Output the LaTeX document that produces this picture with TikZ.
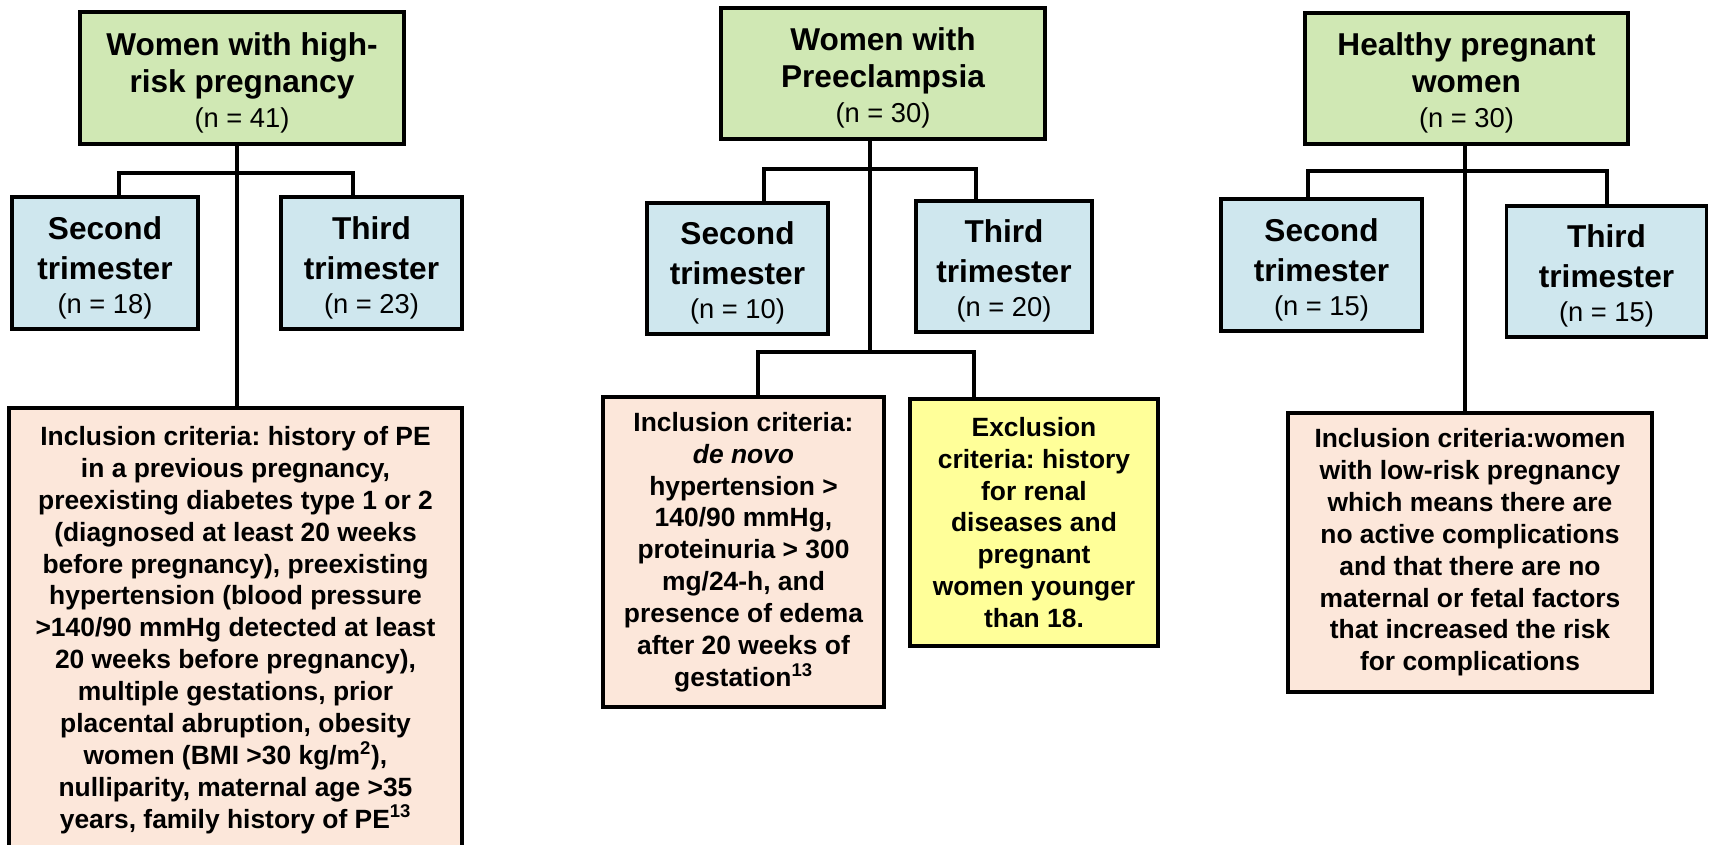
\documentclass[tikz,border=0pt]{standalone}
\usepackage{fontspec}
\setmainfont{Liberation Sans}
\frenchspacing
\definecolor{gfill}{RGB}{208,232,180}
\definecolor{bfill}{RGB}{207,231,238}
\definecolor{pfill}{RGB}{252,231,218}
\definecolor{yfill}{RGB}{255,255,153}
\newcommand\ttlfont{\fontsize{23.7}{27.75}\selectfont\bfseries}
\newcommand\trifont{\fontsize{23.7}{30}\selectfont\bfseries}
\newcommand\cntfont{\fontsize{20.5}{26}\selectfont\mdseries}
\newcommand\crfont{\fontsize{19.8}{23.9}\selectfont\bfseries}
\newcommand\tp{\rule{0pt}{24pt}}
\tikzset{
  box/.style={draw=black, line width=2.4pt, inner sep=0pt, align=center},
  grp/.style={box, fill=gfill, font=\ttlfont},
  tri/.style={box, fill=bfill, font=\trifont},
  inc/.style={box, fill=pfill, font=\crfont},
  exc/.style={box, fill=yfill, font=\crfont},
  conn/.style={draw=black, line width=2.4pt}
}
\begin{document}
\begin{tikzpicture}[x=0.75pt,y=-0.75pt]
\useasboundingbox (0,0) rectangle (1709,845);
\clip (0,0) rectangle (1709,845);
\fill[white] (0,0) rectangle (1709,845);

% group 1
\node[grp, minimum width=243pt, minimum height=99pt] (G1) at (242,78)
  {\tp Women with high-\\risk pregnancy\\[-1.5pt]{\cntfont (n = 41)}};
\node[tri, minimum width=139.5pt, minimum height=99pt] (S1) at (105,263)
  {\tp Second\\trimester\\[-4.5pt]{\cntfont (n = 18)}};
\node[tri, minimum width=135.75pt, minimum height=99pt] (T1) at (371.5,263)
  {\tp Third\\trimester\\[-4.5pt]{\cntfont (n = 23)}};
\node[inc, minimum width=339.75pt, minimum height=333pt] (I1) at (235.5,630)
  {Inclusion criteria: history of PE\\in a previous pregnancy,\\preexisting diabetes type 1 or 2\\(diagnosed at least 20 weeks\\before pregnancy), preexisting\\hypertension (blood pressure\\>140/90 mmHg detected at least\\20 weeks before pregnancy),\\multiple gestations, prior\\placental abruption, obesity\\women (BMI >30 kg/m\textsuperscript{2}),\\nulliparity, maternal age >35\\years, family history of PE\textsuperscript{13}};

% group 2
\node[grp, minimum width=243pt, minimum height=98.25pt] (G2) at (883,73.5)
  {\tp Women with\\Preeclampsia\\[-1.5pt]{\cntfont (n = 30)}};
\node[tri, minimum width=135.75pt, minimum height=98.25pt] (S2) at (737.5,268.5)
  {\tp Second\\trimester\\[-4.5pt]{\cntfont (n = 10)}};
\node[tri, minimum width=132pt, minimum height=98.25pt] (T2) at (1004,266.5)
  {\tp Third\\trimester\\[-4.5pt]{\cntfont (n = 20)}};
\node[inc, minimum width=210.75pt, minimum height=232.5pt] (I2) at (743.5,552)
  {Inclusion criteria:\\\textit{de novo}\\hypertension >\\140/90 mmHg,\\proteinuria > 300\\mg/24-h, and\\presence of edema\\after 20 weeks of\\gestation\textsuperscript{13}};
\node[exc, minimum width=186pt, minimum height=185.25pt] (E2) at (1034,522.5)
  {Exclusion\\criteria: history\\for renal\\diseases and\\pregnant\\women younger\\than 18.};

% group 3
\node[grp, minimum width=242.25pt, minimum height=98.25pt] (G3) at (1466.5,78.5)
  {\tp Healthy pregnant\\women\\[-1.5pt]{\cntfont (n = 30)}};
\node[tri, minimum width=150.75pt, minimum height=99pt] (S3) at (1321.5,265)
  {\tp Second\\trimester\\[-4.5pt]{\cntfont (n = 15)}};
\node[tri, minimum width=150pt, minimum height=98.25pt] (T3) at (1606.5,271.5)
  {\tp Third\\trimester\\[-4.5pt]{\cntfont (n = 15)}};
\node[inc, minimum width=273pt, minimum height=209.25pt] (I3) at (1470,552.5)
  {Inclusion criteria:women\\with low-risk pregnancy\\which means there are\\no active complications\\and that there are no\\maternal or fetal factors\\that increased the risk\\for complications};

% connectors group 1
\coordinate (j1) at (237,173);
\coordinate (b1l) at (119,173);
\coordinate (b1r) at (353,173);
\draw[conn] (j1 |- G1.south) -- (j1 |- I1.north);
\draw[conn] (b1l |- S1.north) -- (b1l) -- (b1r) -- (b1r |- T1.north);

% connectors group 2
\coordinate (j2) at (870,169);
\coordinate (j2b) at (870,352);
\coordinate (b2l) at (764,169);
\coordinate (b2r) at (976,169);
\coordinate (c2l) at (758,352);
\coordinate (c2r) at (974,352);
\draw[conn] (j2 |- G2.south) -- (j2b);
\draw[conn] (b2l |- S2.north) -- (b2l) -- (b2r) -- (b2r |- T2.north);
\draw[conn] (c2l |- I2.north) -- (c2l) -- (c2r) -- (c2r |- E2.north);

% connectors group 3
\coordinate (j3) at (1465,171);
\coordinate (b3l) at (1308,171);
\coordinate (b3r) at (1607,171);
\draw[conn] (j3 |- G3.south) -- (j3 |- I3.north);
\draw[conn] (b3l |- S3.north) -- (b3l) -- (b3r) -- (b3r |- T3.north);
\end{tikzpicture}
\end{document}
